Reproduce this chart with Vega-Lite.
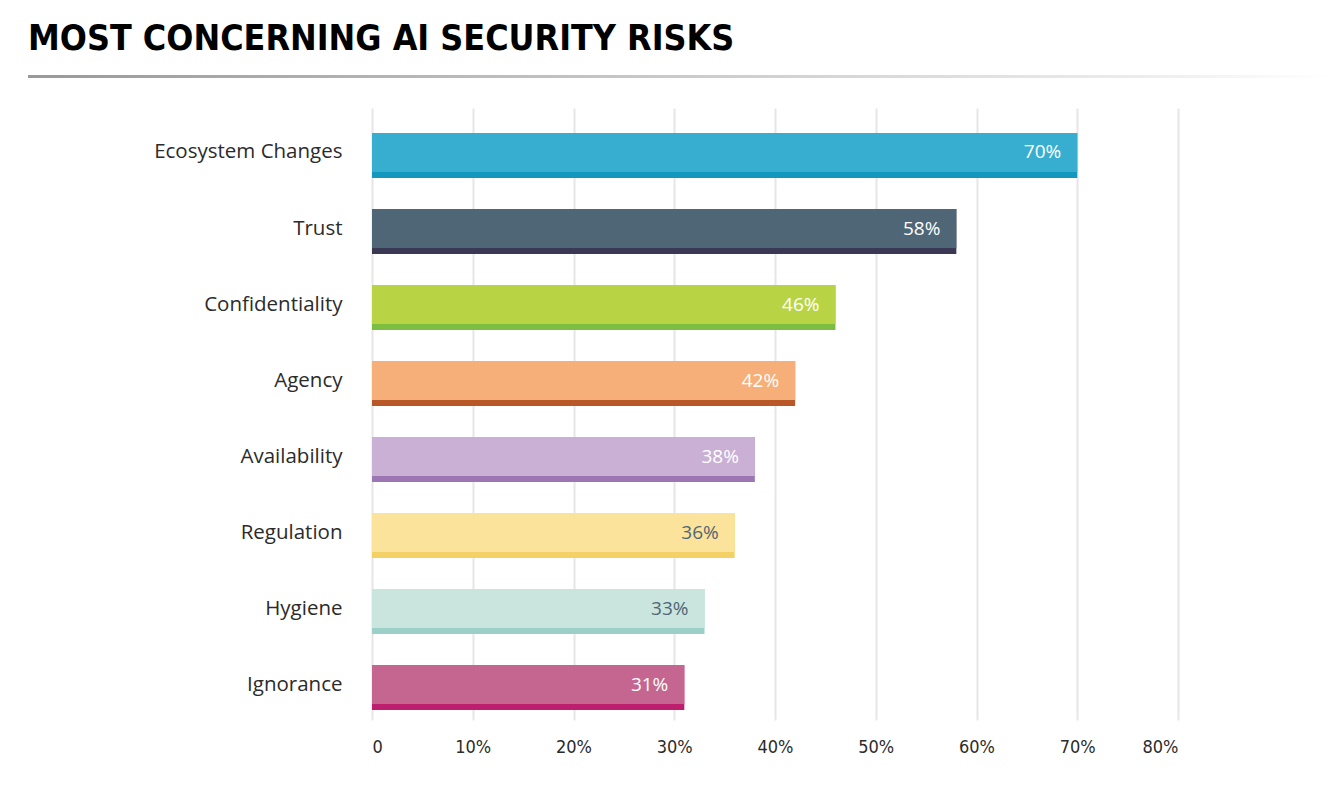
{
  "$schema": "https://vega.github.io/schema/vega-lite/v6.json",
  "background": "white",
  "padding": {"left": 28, "top": 21, "right": 0, "bottom": 0},
  "title": {
    "text": "MOST CONCERNING AI SECURITY RISKS",
    "anchor": "start",
    "font": "DejaVu Sans Condensed",
    "fontSize": 35.5,
    "fontWeight": "bold",
    "color": "#000000",
    "offset": 18
  },
  "config": {"view": {"stroke": null}},
  "spacing": 30,
  "vconcat": [
    {
      "width": 1302,
      "height": 3,
      "data": {"values": [{"from": 0, "to": 1}]},
      "mark": {
        "type": "rect",
        "color": {
          "gradient": "linear",
          "x1": 0, "y1": 0, "x2": 1, "y2": 0,
          "stops": [
            {"offset": 0, "color": "#999999"},
            {"offset": 0.55, "color": "#cfcfcf"},
            {"offset": 0.85, "color": "#ececec"},
            {"offset": 1, "color": "#ffffff"}
          ]
        }
      },
      "encoding": {
        "x": {"field": "from", "type": "quantitative", "scale": {"domain": [0, 1]}, "axis": null},
        "x2": {"field": "to"}
      }
    },
    {
      "width": 1150,
      "height": 610,
      "data": {
        "values": [
          {"risk": "Ecosystem Changes", "value": 70},
          {"risk": "Trust", "value": 58},
          {"risk": "Confidentiality", "value": 46},
          {"risk": "Agency", "value": 42},
          {"risk": "Availability", "value": 38},
          {"risk": "Regulation", "value": 36},
          {"risk": "Hygiene", "value": 33},
          {"risk": "Ignorance", "value": 31}
        ]
      },
      "encoding": {
        "y": {
          "field": "risk",
          "type": "nominal",
          "sort": null,
          "scale": {"paddingInner": 0.408, "paddingOuter": 0.217, "align": 0.758},
          "axis": {
            "title": null,
            "domain": false,
            "ticks": false,
            "labelFont": "Open Sans",
            "labelFontSize": 20.5,
            "labelColor": "#2b2b2b",
            "labelPadding": -314,
            "labelOffset": -3,
            "labelLimit": 400
          }
        },
        "x": {
          "field": "value",
          "type": "quantitative",
          "scale": {"domain": [0, 80], "range": [344, 1150]},
          "axis": {
            "title": null,
            "values": [0, 10, 20, 30, 40, 50, 60, 70, 80],
            "labelExpr": "datum.value === 0 ? '0' : datum.value + '%'",
            "domain": false,
            "grid": true,
            "gridColor": "#e6e6e6",
            "gridWidth": 2,
            "ticks": true,
            "tickColor": "#e6e6e6",
            "tickWidth": 2,
            "tickSize": 2,
            "labelFont": "DejaVu Sans Condensed",
            "labelFontSize": 18,
            "labelColor": "#2b2b2b",
            "labelPadding": 18
          }
        }
      },
      "layer": [
        {
          "mark": {"type": "bar"},
          "encoding": {
            "color": {
              "field": "risk",
              "type": "nominal",
              "legend": null,
              "scale": {
                "domain": ["Ecosystem Changes", "Trust", "Confidentiality", "Agency", "Availability", "Regulation", "Hygiene", "Ignorance"],
                "range": ["#1397bc", "#3a3852", "#7bbe42", "#b85728", "#9b76b2", "#f4d165", "#9ccfc7", "#be1e6e"]
              }
            }
          }
        },
        {
          "mark": {"type": "bar", "height": 39, "yOffset": -3},
          "encoding": {
            "fill": {
              "field": "risk",
              "type": "nominal",
              "legend": null,
              "scale": {
                "domain": ["Ecosystem Changes", "Trust", "Confidentiality", "Agency", "Availability", "Regulation", "Hygiene", "Ignorance"],
                "range": ["#37aecf", "#4f6677", "#b8d445", "#f6af78", "#cab0d5", "#fbe39b", "#c9e5de", "#c46690"]
              }
            }
          }
        },
        {
          "mark": {
            "type": "text",
            "align": "right",
            "baseline": "middle",
            "dx": -16,
            "dy": -3,
            "font": "Open Sans",
            "fontSize": 19,
            "text": {"expr": "datum.value + '%'"}
          },
          "encoding": {
            "color": {
              "condition": {"test": "datum.risk === 'Regulation' || datum.risk === 'Hygiene'", "value": "#4f6677"},
              "value": "#ffffff"
            }
          }
        }
      ],
      "resolve": {"scale": {"color": "independent", "fill": "independent"}}
    }
  ]
}
